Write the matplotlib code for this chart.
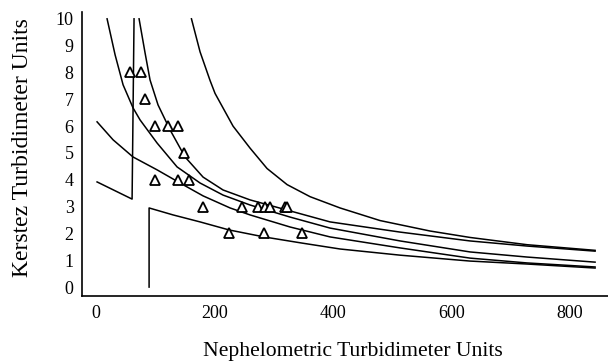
import matplotlib
matplotlib.use("Agg")
import matplotlib.pyplot as plt

# --- 測定点 (NTU, KTU) ---
ntu_pts = [58, 76, 82, 100, 121, 138, 148, 100, 138, 157,
           180, 247, 274, 285, 294, 319, 323, 225, 284, 348]
ktu_pts = [8, 8, 7, 6, 6, 6, 5, 4, 4, 4,
           3, 3, 3, 3, 3, 3, 3, 2, 2, 2]

# --- 曲線 ---
c1_x = [161, 175.5, 192.4, 200.8, 231.2, 259.9, 288.6, 322.4, 361.2, 411.8, 479.3, 563.7, 631.2, 727.4, 842.2]
c1_y = [10, 8.77, 7.7, 7.22, 6.0, 5.18, 4.42, 3.82, 3.37, 2.95, 2.48, 2.09, 1.85, 1.58, 1.37]

c2_x = [72.6, 82.7, 91.1, 104.6, 124.9, 150.2, 180.6, 214.3, 259.9, 327.4, 394.9, 513.1, 631.2, 727.4, 842.2]
c2_y = [10, 8.73, 7.72, 6.79, 5.86, 4.85, 4.10, 3.62, 3.25, 2.84, 2.43, 2.05, 1.72, 1.53, 1.34]

c3_x = [18.6, 32.1, 45.6, 62.4, 74.3, 103, 136.7, 175.5, 214.3, 259.9, 327.4, 394.9, 513.1, 631.2, 727.4, 842.2]
c3_y = [10, 8.66, 7.54, 6.68, 6.23, 5.37, 4.48, 3.88, 3.43, 3.06, 2.61, 2.20, 1.72, 1.31, 1.12, 0.93]

c4_x = [1.7, 28.7, 62.4, 103, 141.8, 180.6, 226.2, 259.9, 327.4, 394.9, 513.1, 631.2, 727.4, 842.2]
c4_y = [6.16, 5.49, 4.85, 4.37, 3.88, 3.40, 2.95, 2.69, 2.24, 1.87, 1.46, 1.08, 0.90, 0.75]

# 左下の折れ線（右端で縦に立ち上がる）
c5_x = [1.7, 60.8, 64.1]
c5_y = [3.92, 3.28, 10]

# 下側の曲線（縦線から始まる）
c6_x = [89.5, 89.5, 130, 175.5, 224.5, 283.5, 347.7, 411.8, 513.1, 631.2, 727.4, 842.2]
c6_y = [0, 2.95, 2.69, 2.43, 2.13, 1.87, 1.64, 1.42, 1.19, 0.97, 0.86, 0.71]

x_ticks = [0, 200, 400, 600, 800]
y_ticks = list(range(0, 11))

plt.rcParams['font.family'] = ['Liberation Serif', 'DejaVu Serif']

fig = plt.figure(figsize=(6.08, 3.62), dpi=100)
ax = fig.add_axes([0.135, 0.181, 0.865, 0.787])

for cx, cy in [(c1_x, c1_y), (c2_x, c2_y), (c3_x, c3_y), (c4_x, c4_y), (c5_x, c5_y), (c6_x, c6_y)]:
    ax.plot(cx, cy, color='k', lw=1.1)

ax.plot(ntu_pts, ktu_pts, linestyle='none', marker='^', markersize=6.5,
        markerfacecolor='white', markeredgecolor='k', markeredgewidth=1.3)

ax.set_xlim(-23.6, 864)
ax.set_ylim(-0.35, 10.27)
ax.set_xticks(x_ticks)
ax.set_yticks(y_ticks)
ax.tick_params(length=0, labelsize=13, pad=6)

ax.spines['top'].set_visible(False)
ax.spines['right'].set_visible(False)
ax.spines['left'].set_linewidth(1.2)
ax.spines['bottom'].set_linewidth(1.2)

ax.set_xlabel("Nephelometric Turbidimeter Units", fontsize=15.6)
ax.set_ylabel("Kerstez Turbidimeter Units", fontsize=17)
# ラベル位置は参照画像に合わせて手動で指定
ax.xaxis.label.set_va('center')
ax.xaxis.set_label_coords(0.515, -0.192)
ax.yaxis.label.set_va('center')
ax.yaxis.set_label_coords(-0.114, 0.521)

fig.savefig("out.png", dpi=100)
